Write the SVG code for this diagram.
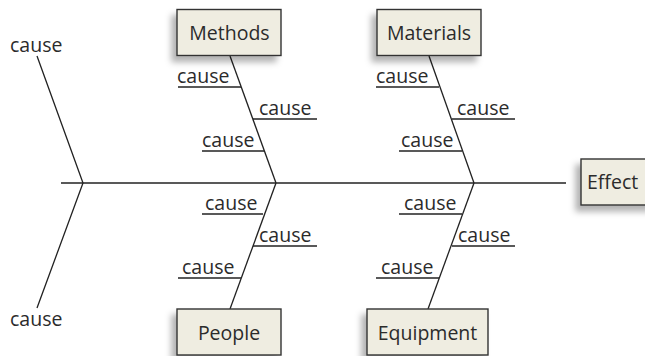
<svg xmlns="http://www.w3.org/2000/svg" width="645" height="356" viewBox="0 0 645 356">
<style>
.ln{stroke:#222;stroke-width:1.3;fill:none}
.sp{stroke:#222;stroke-width:1.5;fill:none}
.box{fill:#efede1;stroke:#333;stroke-width:1.4;filter:url(#sh)}
text{font-family:"Open Sans","DejaVu Sans",sans-serif;font-size:19.5px;fill:#2b2b2b}
.c{text-anchor:middle}
</style>
<defs>
<filter id="sh" x="-20%" y="-30%" width="140%" height="160%">
<feDropShadow dx="-5" dy="6" stdDeviation="3" flood-color="#000" flood-opacity="0.3"/>
</filter>
</defs>
<rect width="645" height="356" fill="#fff"/>
<g id="connectors">
<line class="sp" x1="61" y1="183" x2="566" y2="183"/>
<polyline class="ln" points="37,56 83,183 37,308"/>
<line class="ln" x1="230" y1="56" x2="276" y2="183"/>
<line class="ln" x1="429" y1="56" x2="474" y2="183"/>
<line class="ln" x1="276" y1="183" x2="230" y2="309"/>
<line class="ln" x1="474" y1="183" x2="428" y2="309"/>
<line class="ln" x1="178" y1="87" x2="241" y2="87"/>
<line class="ln" x1="253" y1="119" x2="317" y2="119"/>
<line class="ln" x1="202" y1="151" x2="264" y2="151"/>
<line class="ln" x1="376" y1="87" x2="439" y2="87"/>
<line class="ln" x1="452" y1="119" x2="515" y2="119"/>
<line class="ln" x1="399" y1="151" x2="462" y2="151"/>
<line class="ln" x1="202" y1="214" x2="263" y2="214"/>
<line class="ln" x1="253" y1="246" x2="317" y2="246"/>
<line class="ln" x1="178" y1="278" x2="241" y2="278"/>
<line class="ln" x1="399" y1="214" x2="462" y2="214"/>
<line class="ln" x1="452" y1="246" x2="515" y2="246"/>
<line class="ln" x1="376" y1="278" x2="439" y2="278"/>
</g>
<g id="causes">
<text x="10" y="52">cause</text>
<text x="10" y="326">cause</text>
<text x="177" y="83">cause</text>
<text x="259" y="115">cause</text>
<text x="202" y="147">cause</text>
<text x="376" y="83">cause</text>
<text x="457" y="115">cause</text>
<text x="401" y="147">cause</text>
<text x="205" y="210">cause</text>
<text x="259" y="242">cause</text>
<text x="182" y="274">cause</text>
<text x="404" y="210">cause</text>
<text x="458" y="242">cause</text>
<text x="381" y="274">cause</text>
</g>
<g id="methods">
<rect class="box" x="177" y="9.5" width="104" height="46"/>
<text class="c" x="229.5" y="39.5">Methods</text>
</g>
<g id="materials">
<rect class="box" x="377" y="9.5" width="104" height="46"/>
<text class="c" x="429" y="39.5">Materials</text>
</g>
<g id="people">
<rect class="box" x="177" y="309" width="104" height="46"/>
<text class="c" x="229" y="339.5">People</text>
</g>
<g id="equipment">
<rect class="box" x="367" y="309" width="121" height="46"/>
<text class="c" x="427.5" y="339.5">Equipment</text>
</g>
<g id="effect">
<rect class="box" x="581" y="159" width="80" height="46"/>
<text x="587" y="188.5">Effect</text>
</g>
</svg>
